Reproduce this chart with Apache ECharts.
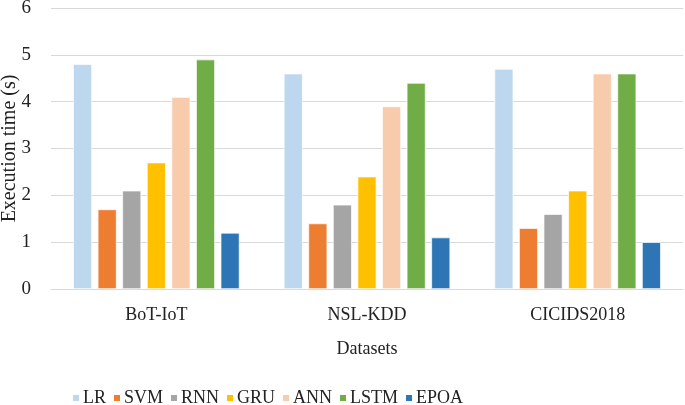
<!DOCTYPE html>
<html><head><meta charset="utf-8">
<script src="https://cdn.jsdelivr.net/npm/echarts@6/dist/echarts.min.js"></script>
<style>html,body{margin:0;padding:0;background:#fff}#c{width:685px;height:405px}</style>
</head><body><div id="c"></div>
<script>
var categories = ['BoT-IoT', 'NSL-KDD', 'CICIDS2018'];
var seriesNames = ['LR', 'SVM', 'RNN', 'GRU', 'ANN', 'LSTM', 'EPOA'];
var LR = [4.8, 4.6, 4.7];
var SVM = [1.7, 1.4, 1.3];
var RNN = [2.1, 1.8, 1.6];
var GRU = [2.7, 2.4, 2.1];
var ANN = [4.1, 3.9, 4.6];
var LSTM = [4.9, 4.4, 4.6];
var EPOA = [1.2, 1.1, 1.0];
var yTicks = [0, 1, 2, 3, 4, 5, 6];
var colors = ['#BDD7EE', '#ED7D31', '#A5A5A5', '#FFC000', '#F8CBAD', '#70AD47', '#2E75B6'];
var values = [LR, SVM, RNN, GRU, ANN, LSTM, EPOA];
var font = 'Liberation Serif';
var chart = echarts.init(document.getElementById('c'));
chart.setOption({
  animation: false,
  color: colors,
  textStyle: {fontFamily: font},
  grid: {left: 51, right: 2, top: 8, bottom: 116, outerBoundsMode: 'none', containLabel: false},
  legend: {
    bottom: -7, left: 66, itemWidth: 8, itemHeight: 8, itemGap: 6,
    icon: 'rect',
    textStyle: {fontFamily: font, fontSize: 18, color: '#222', padding: [0, 0, 0, -2]},
    data: seriesNames
  },
  xAxis: {
    type: 'category', data: categories,
    name: 'Datasets', nameLocation: 'middle', nameGap: 51, nameMoveOverlap: false,
    nameTextStyle: {fontFamily: font, fontSize: 18, color: '#222'},
    axisLine: {lineStyle: {color: '#D9D9D9', width: 1}},
    axisTick: {show: false},
    axisLabel: {fontFamily: font, fontSize: 18, color: '#222', margin: 17}
  },
  yAxis: {
    type: 'value', min: 0, max: 6, interval: 1,
    name: 'Execution time (s)', nameLocation: 'middle', nameGap: 31, nameMoveOverlap: false,
    nameTextStyle: {fontFamily: font, fontSize: 20, color: '#222'},
    axisLine: {show: false}, axisTick: {show: false},
    axisLabel: {fontFamily: font, fontSize: 19, color: '#222', margin: 20,
      formatter: function (v) { return yTicks.indexOf(v) >= 0 ? String(v) : ''; }},
    splitLine: {lineStyle: {color: '#D9D9D9', width: 1}}
  },
  series: seriesNames.map(function (n, i) {
    return {
      name: n, type: 'bar', data: values[i],
      barGap: '30%', barCategoryGap: '21%',
      itemStyle: {borderColor: '#fff', borderWidth: 0.7}
    };
  })
});
</script></body></html>
